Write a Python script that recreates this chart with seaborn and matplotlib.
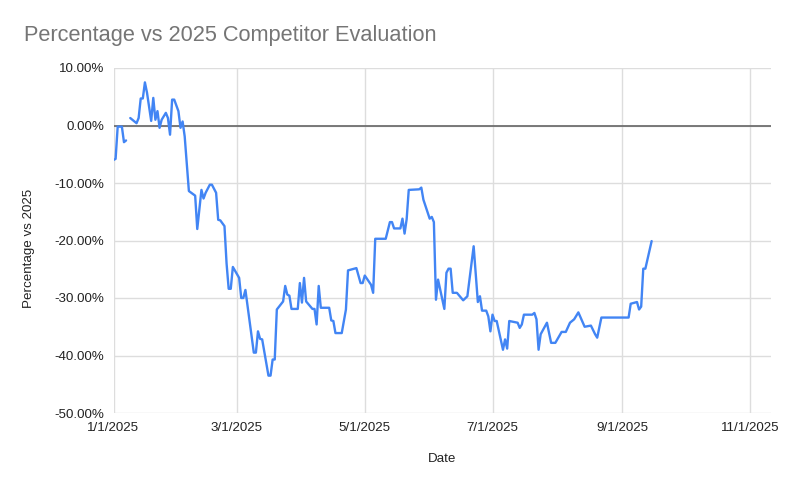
import pandas as pd
import matplotlib
matplotlib.use("Agg")
import matplotlib.pyplot as plt
import matplotlib.dates as mdates
import seaborn as sns

# values (percent vs 2025)
dates_a = ["2025-01-01", "2025-01-02", "2025-01-03", "2025-01-05", "2025-01-06", "2025-01-07"]
pct_a = [-6.0, -5.8, -0.2, -0.2, -2.9, -2.6]

dates_b = [
    "2025-01-09", "2025-01-12", "2025-01-13", "2025-01-14", "2025-01-15", "2025-01-16",
    "2025-01-17", "2025-01-19", "2025-01-20", "2025-01-21", "2025-01-22", "2025-01-23",
    "2025-01-24", "2025-01-26", "2025-01-27", "2025-01-28", "2025-01-29", "2025-01-30",
    "2025-02-01", "2025-02-02", "2025-02-03", "2025-02-04", "2025-02-06", "2025-02-09",
    "2025-02-10", "2025-02-12", "2025-02-13", "2025-02-14", "2025-02-16", "2025-02-17",
    "2025-02-19", "2025-02-20", "2025-02-21", "2025-02-23", "2025-02-24", "2025-02-25",
    "2025-02-26", "2025-02-27", "2025-03-02", "2025-03-03", "2025-03-04", "2025-03-05",
    "2025-03-09", "2025-03-10", "2025-03-11", "2025-03-12", "2025-03-13", "2025-03-16",
    "2025-03-17", "2025-03-18", "2025-03-19", "2025-03-20", "2025-03-23", "2025-03-24",
    "2025-03-25", "2025-03-26", "2025-03-27", "2025-03-30", "2025-03-31", "2025-04-01",
    "2025-04-02", "2025-04-03", "2025-04-06", "2025-04-07", "2025-04-08", "2025-04-09",
    "2025-04-10", "2025-04-14", "2025-04-15", "2025-04-16", "2025-04-17", "2025-04-20",
    "2025-04-22", "2025-04-23", "2025-04-27", "2025-04-29", "2025-04-30", "2025-05-01",
    "2025-05-04", "2025-05-05", "2025-05-06", "2025-05-11", "2025-05-13", "2025-05-14",
    "2025-05-15", "2025-05-18", "2025-05-19", "2025-05-20", "2025-05-21", "2025-05-22",
    "2025-05-27", "2025-05-28", "2025-05-29", "2025-06-01", "2025-06-02", "2025-06-03",
    "2025-06-04", "2025-06-05", "2025-06-08", "2025-06-09", "2025-06-10", "2025-06-11",
    "2025-06-12", "2025-06-14", "2025-06-17", "2025-06-19", "2025-06-22", "2025-06-24",
    "2025-06-25", "2025-06-26", "2025-06-28", "2025-06-29", "2025-06-30", "2025-07-01",
    "2025-07-02", "2025-07-03", "2025-07-06", "2025-07-07", "2025-07-08", "2025-07-09",
    "2025-07-13", "2025-07-14", "2025-07-15", "2025-07-16", "2025-07-20", "2025-07-21",
    "2025-07-22", "2025-07-23", "2025-07-24", "2025-07-27", "2025-07-29", "2025-07-31",
    "2025-08-03", "2025-08-05", "2025-08-07", "2025-08-09", "2025-08-11", "2025-08-14",
    "2025-08-17", "2025-08-19", "2025-08-20", "2025-08-22", "2025-09-04", "2025-09-05",
    "2025-09-08", "2025-09-09", "2025-09-10", "2025-09-11", "2025-09-12", "2025-09-15",
]
pct_b = [
    1.3, 0.4, 1.3, 4.7, 4.7, 7.5,
    5.7, 0.8, 4.8, 1.0, 2.5, -0.4,
    1.0, 2.2, 1.3, -1.6, 4.5, 4.5,
    2.5, -0.4, 0.7, -1.9, -11.4, -12.2,
    -18.0, -11.2, -12.7, -11.7, -10.3, -10.3,
    -11.7, -16.4, -16.5, -17.5, -24.0, -28.4,
    -28.4, -24.6, -26.5, -30.0, -30.0, -28.6,
    -39.5, -39.5, -35.8, -37.1, -37.2, -43.5,
    -43.5, -40.7, -40.7, -32.0, -30.6, -27.9,
    -29.4, -29.6, -31.9, -31.9, -27.4, -30.8,
    -26.5, -30.6, -31.9, -31.9, -34.6, -27.9,
    -31.7, -31.7, -33.9, -34.0, -36.1, -36.1,
    -32.0, -25.2, -24.8, -27.4, -27.4, -26.1,
    -27.7, -29.1, -19.7, -19.7, -16.8, -16.8,
    -17.9, -17.9, -16.2, -18.8, -16.3, -11.2,
    -11.1, -10.8, -12.9, -16.2, -15.9, -16.8,
    -30.3, -26.8, -31.9, -25.6, -24.9, -24.9,
    -29.1, -29.1, -30.4, -29.7, -21.0, -30.7,
    -29.7, -32.2, -32.2, -33.2, -35.8, -32.9,
    -34.0, -34.0, -39.0, -37.2, -38.8, -34.0,
    -34.3, -35.2, -34.6, -32.9, -32.9, -32.6,
    -33.7, -39.0, -36.3, -34.3, -37.8, -37.8,
    -35.9, -35.9, -34.3, -33.7, -32.5, -35.0,
    -34.8, -36.3, -36.9, -33.4, -33.4, -31.0,
    -30.7, -32.0, -31.5, -24.9, -24.9, -20.1,
]

y_ticks = [10, 0, -10, -20, -30, -40, -50]
x_tick_months = [1, 3, 5, 7, 9, 11]

df = pd.concat([
    pd.DataFrame({"date": pd.to_datetime(dates_a), "pct": pct_a, "segment": 0}),
    pd.DataFrame({"date": pd.to_datetime(dates_b), "pct": pct_b, "segment": 1}),
])

sns.set_style("white")
plt.rcParams["font.family"] = ["Liberation Sans", "DejaVu Sans"]

fig = plt.figure(figsize=(7.93, 4.84), dpi=100)
ax = fig.add_axes([113.5 / 793, 1 - 413 / 484, (771 - 113.5) / 793, (413 - 68) / 484])

# zero line under the data
ax.axhline(0, color="#6f6f6f", lw=1.3, zorder=1)

sns.lineplot(data=df, x="date", y="pct", units="segment", estimator=None,
             color="#4285F4", lw=1.7, ax=ax, zorder=3)

ax.set_xlim(pd.Timestamp("2025-01-01"), pd.Timestamp("2025-11-11"))
ax.set_ylim(-50, 10)
ax.set_yticks(y_ticks)
ax.yaxis.set_major_formatter(plt.FuncFormatter(lambda v, p: f"{v:.2f}%"))
ax.xaxis.set_major_locator(mdates.MonthLocator(bymonth=x_tick_months))
ax.xaxis.set_major_formatter(plt.FuncFormatter(
    lambda v, p: f"{mdates.num2date(v).month}/{mdates.num2date(v).day}/{mdates.num2date(v).year}"))

ax.grid(True, color="#dddddd", lw=1.0)
ax.set_axisbelow(True)
for s in ax.spines.values():
    s.set_visible(False)
ax.tick_params(length=0, labelsize=9.6, colors="#222222", pad=6.5)

ax.set_xlabel("Date", fontsize=9.6, color="#222222", labelpad=14)
ax.set_ylabel("Percentage vs 2025", fontsize=9.6, color="#222222")
ax.yaxis.set_label_coords(-0.119, 0.477)

fig.text(24 / 793, 1 - 41.5 / 484, "Percentage vs 2025 Competitor Evaluation",
         fontsize=15.7, color="#757575", ha="left", va="baseline")

plt.savefig("out.png", dpi=100)
